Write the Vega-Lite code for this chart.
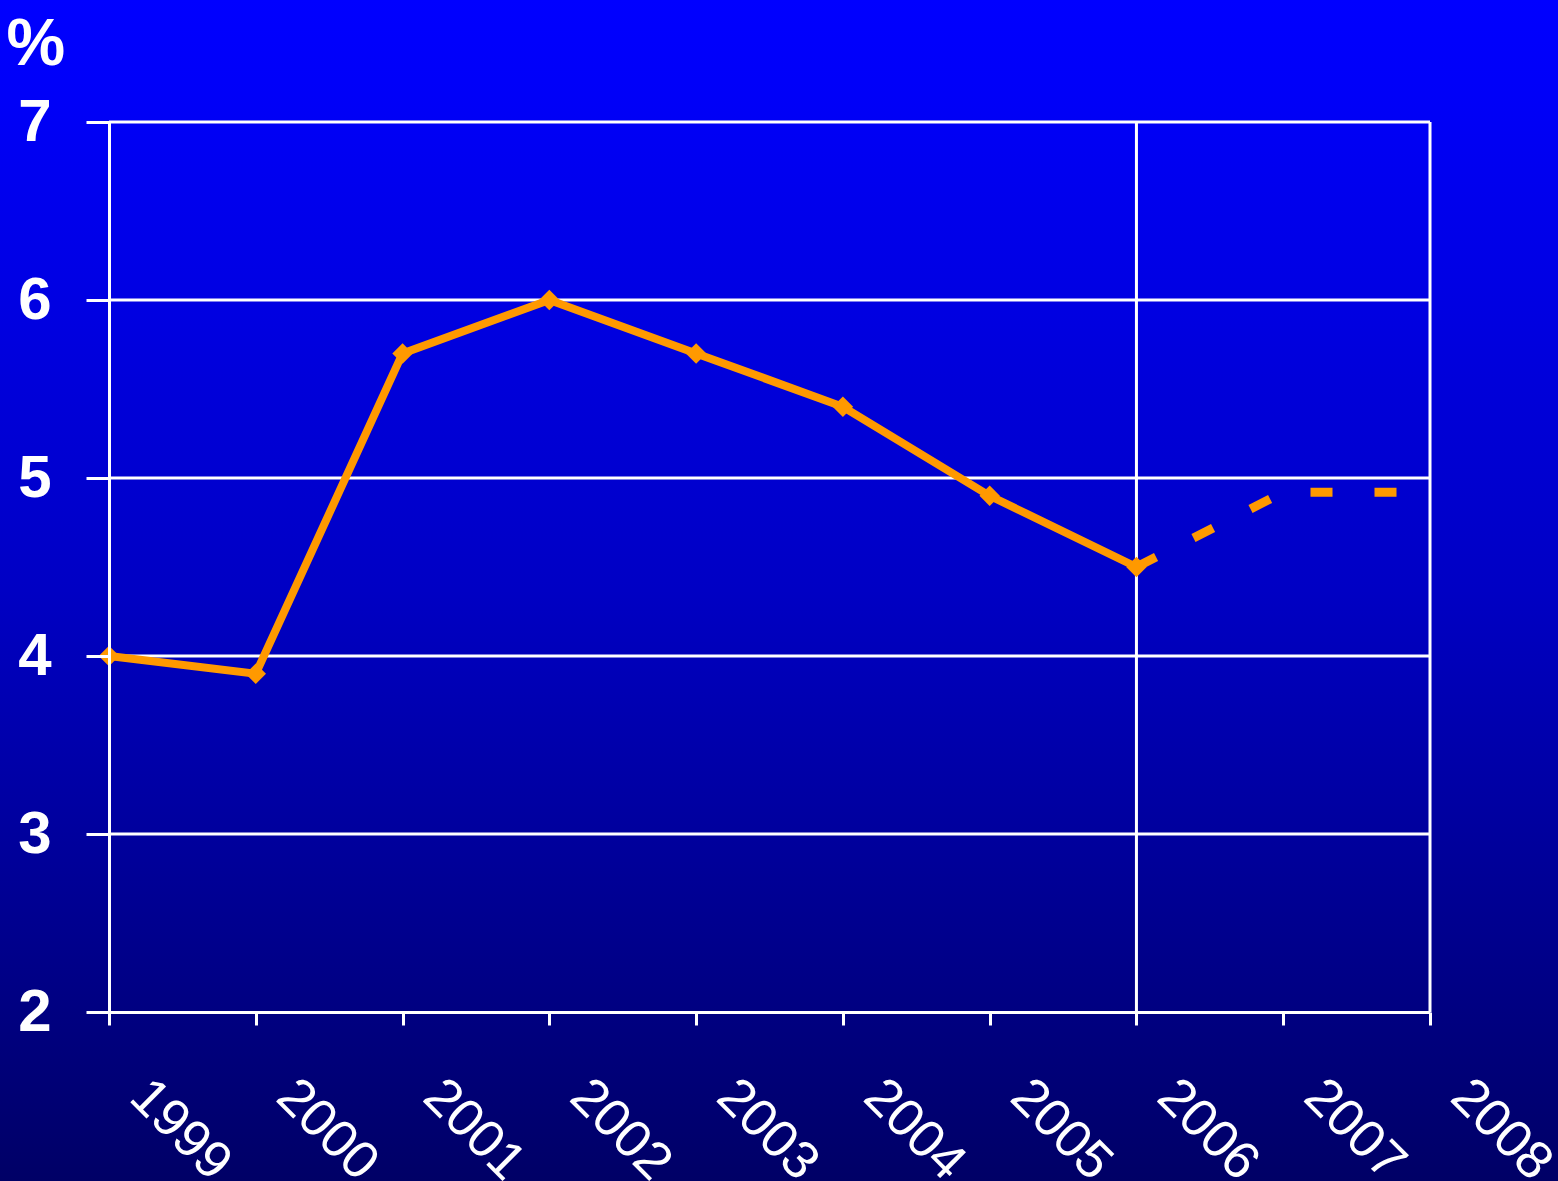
{
  "$schema": "https://vega.github.io/schema/vega-lite/v6.json",
  "width": 1558,
  "height": 1181,
  "autosize": {"type": "none"},
  "padding": 0,
  "background": "#000066",
  "config": {
    "view": {"stroke": null},
    "font": "Liberation Sans"
  },
  "datasets": {
    "actual": [
      {"year": 1999, "rate": 4.0},
      {"year": 2000, "rate": 3.9},
      {"year": 2001, "rate": 5.7},
      {"year": 2002, "rate": 6.0},
      {"year": 2003, "rate": 5.7},
      {"year": 2004, "rate": 5.4},
      {"year": 2005, "rate": 4.9},
      {"year": 2006, "rate": 4.5}
    ],
    "forecast": [
      {"year": 2006, "rate": 4.5},
      {"year": 2007, "rate": 4.92},
      {"year": 2008, "rate": 4.92}
    ],
    "hgrid": [
      {"rate": 3}, {"rate": 4}, {"rate": 5}, {"rate": 6}, {"rate": 7}
    ],
    "vgrid": [
      {"year": 2006}, {"year": 2008}
    ]
  },
  "layer": [
    {
      "data": {"values": [{"bg": 1}]},
      "mark": {
        "type": "rect",
        "fill": {
          "gradient": "linear",
          "x1": 0, "y1": 0, "x2": 0, "y2": 1,
          "stops": [
            {"offset": 0, "color": "#0000FF"},
            {"offset": 0.08, "color": "#0000F8"},
            {"offset": 0.5, "color": "#0000C4"},
            {"offset": 1, "color": "#000066"}
          ]
        }
      }
    },
    {
      "data": {"name": "hgrid"},
      "mark": {"type": "rule", "color": "white", "strokeWidth": 3},
      "encoding": {
        "y": {"field": "rate", "type": "quantitative"},
        "x": {"datum": 1999, "type": "quantitative"},
        "x2": {"datum": 2008}
      }
    },
    {
      "data": {"name": "vgrid"},
      "mark": {"type": "rule", "color": "white", "strokeWidth": 3},
      "encoding": {
        "x": {"field": "year", "type": "quantitative"},
        "y": {"datum": 2, "type": "quantitative"},
        "y2": {"datum": 7}
      }
    },
    {
      "data": {"name": "forecast"},
      "mark": {"type": "line", "color": "#FF9900", "strokeWidth": 9, "strokeDash": [22, 42], "strokeCap": "butt"},
      "encoding": {
        "x": {"field": "year", "type": "quantitative"},
        "y": {"field": "rate", "type": "quantitative"}
      }
    },
    {
      "data": {"name": "actual"},
      "mark": {
        "type": "line",
        "color": "#FF9900",
        "strokeWidth": 8,
        "strokeJoin": "miter",
        "point": {"shape": "diamond", "size": 420, "filled": true, "color": "#FF9900", "opacity": 1}
      },
      "encoding": {
        "x": {
          "field": "year",
          "type": "quantitative",
          "scale": {"domain": [1999, 2008], "range": [109, 1430], "nice": false, "zero": false},
          "axis": {
            "zindex": 1,
            "title": null,
            "orient": "bottom",
            "offset": -169,
            "values": [1999, 2000, 2001, 2002, 2003, 2004, 2005, 2006, 2007, 2008],
            "format": "d",
            "grid": false,
            "domain": true,
            "domainColor": "white",
            "domainWidth": 3,
            "ticks": true,
            "tickColor": "white",
            "tickWidth": 3,
            "tickSize": 13,
            "labelColor": "white",
            "labelFont": "Liberation Sans",
            "labelFontSize": 53,
            "labelFontWeight": "normal",
            "labelAngle": 45,
            "labelAlign": "left",
            "labelBaseline": "alphabetic",
            "labelPadding": 74,
            "labelOffset": 18,
            "labelOverlap": false,
            "labelFlush": false,
            "labelBound": false
          }
        },
        "y": {
          "field": "rate",
          "type": "quantitative",
          "scale": {"domain": [2, 7], "range": [1012, 122], "nice": false, "zero": false},
          "axis": {
            "zindex": 1,
            "title": "%",
            "titleAngle": 0,
            "titleColor": "white",
            "titleFont": "Liberation Sans",
            "titleFontSize": 66,
            "titleFontWeight": "bold",
            "titleAlign": "left",
            "titleBaseline": "alphabetic",
            "titleX": -103,
            "titleY": 64,
            "orient": "left",
            "offset": -109,
            "values": [2, 3, 4, 5, 6, 7],
            "format": "d",
            "grid": false,
            "domain": true,
            "domainColor": "white",
            "domainWidth": 3,
            "ticks": true,
            "tickColor": "white",
            "tickWidth": 3,
            "tickSize": 23,
            "labelColor": "white",
            "labelFont": "Liberation Sans",
            "labelFontSize": 60,
            "labelFontWeight": "bold",
            "labelPadding": 35,
            "labelBaseline": "middle",
            "labelOverlap": false,
            "labelFlush": false,
            "labelBound": false
          }
        }
      }
    }
  ]
}
